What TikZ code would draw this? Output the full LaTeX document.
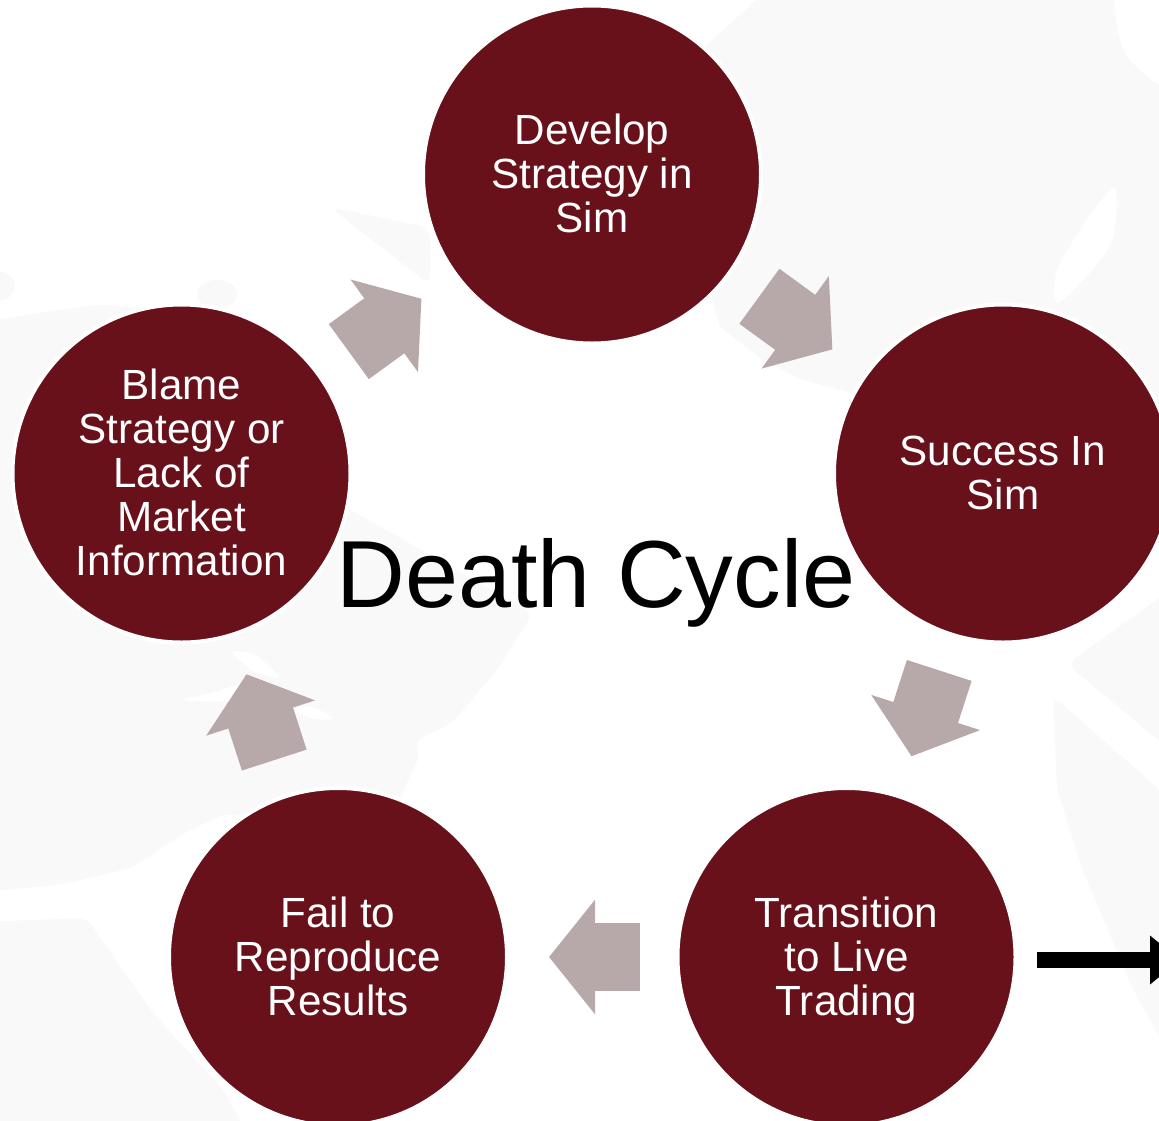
\documentclass[tikz,border=0pt]{standalone}
\usepackage{fontspec}
\setmainfont{Liberation Sans}
\usetikzlibrary{arrows, arrows.meta}
\definecolor{cyclered}{HTML}{68111B}
\definecolor{flowgray}{HTML}{B7A9A9}
\definecolor{markgray}{HTML}{F9F9F9}
\tikzset{
  stage/.style={circle, fill=cyclered, draw=white, line width=4pt, minimum size=338pt, inner sep=0pt,
    text=white, align=center, text depth=2pt, font=\fontsize{42.2}{44}\selectfont},
  flow/.style={flowgray, line width=68pt, -{Triangle[length=46pt,width=112pt]}, shorten <=36pt, shorten >=40pt},
  exitflow/.style={black, line width=16pt, -{Triangle[length=30pt,width=47pt]}},
  bgmark/.style={fill=markgray, rounded corners=10pt},
  bggap/.style={fill=white}
}
\begin{document}
\begin{tikzpicture}[x=1pt,y=-1pt]
\useasboundingbox (0,0) rectangle (1159,1120);
\clip (0,0) rectangle (1159,1120);
\fill[white] (0,0) rectangle (1159,1120);
%faint marks behind the cycle
\fill[markgray] (765,-8)--(1180,-20)--(1180,520)--(1000,500)--(860,395)--(803,380)--(763,360)--(720,327)--(710,290)--(690,60)--(707,45)--cycle; %top right
\fill[bgmark] (-20,322)--(100,304)--(200,315)--(345,507)--(533,613)--(497,670)--(452,723)--(413,742)--(421,753)--(402,793)--(390,850)--(226,813)--(184,833)--(134,867)--(60,885)--(-20,892)--cycle; %left
\fill[bgmark] (-20,922)--(88,918)--(96,932)--(153,1013)--(226,1093)--(250,1140)--(-20,1140)--cycle; %bottom left
\fill[bgmark] (330,207)--(430,228)--(430,285)--cycle;
\fill[bgmark] (1067,664)--(1180,583)--(1180,758)--cycle;
\fill[bgmark] (1053,696)--(1180,808)--(1180,1075)--(1133,989)--(1083,871)--(1057,789)--cycle;
\fill[markgray] (217,294) ellipse (20 and 14);
\fill[markgray] (0,286) ellipse (15 and 14);
\fill[bggap] plot[smooth cycle] coordinates {(1118,-10) (1118,30) (1130,60) (1170,85) (1170,-10)};
\fill[bggap] plot[smooth cycle] coordinates {(1112,188) (1115,227) (1103,257) (1058,303) (1060,263)};
\fill[bggap] plot[smooth cycle] coordinates {(232,652) (255,655) (279,677) (255,672)};
\fill[bggap] plot[smooth cycle] coordinates {(184,700) (215,692) (245,683) (235,700)};
\fill[bggap] plot[smooth cycle] coordinates {(295,708) (315,708) (333,719) (310,718)};
%stages
\node[stage] (develop) at (592,174.5) {Develop\\Strategy in\\Sim};
\node[stage] (success) at (1003,473.5) {Success In\\Sim};
\node[stage] (trading) at (846.5,957) {Transition\\to Live\\Trading};
\node[stage] (results) at (338,957) {Fail to\\Reproduce\\Results};
\node[stage] (blame) at (181.5,473.5) {Blame\\Strategy or\\Lack of\\Market\\Information};
%flow between stages
\draw[flow] (develop)--(success);
\draw[flow] (success)--(trading);
\draw[flow] (trading)--(results);
\draw[flow] (results)--(blame);
\draw[flow] (blame)--(develop);
\node[anchor=base, inner sep=0pt, font=\fontsize{95.3}{100}\selectfont] (title) at (596,607) {Death Cycle};
\coordinate (exitstart) at (1037,960);
\coordinate (exitend) at (1180,960);
\draw[exitflow] (exitstart)--(exitend);
\end{tikzpicture}
\end{document}
